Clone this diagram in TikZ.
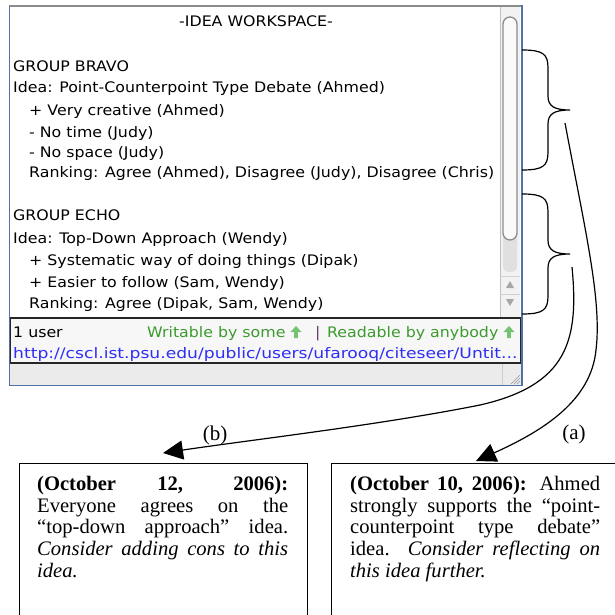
\documentclass[tikz,border=0pt]{standalone}
\usepackage{fontspec}
\setmainfont{Liberation Serif}
\newfontfamily\winfont[FakeStretch=1.09]{DejaVu Sans}
\usetikzlibrary{arrows.meta}
\definecolor{winblue}{HTML}{4F73A8}
\definecolor{okgreen}{HTML}{3C9A2E}
\definecolor{arrowgreen}{HTML}{74C274}
\definecolor{linkblue}{HTML}{2E2EF5}
\definecolor{sepviolet}{HTML}{6A3D6A}
\begin{document}
\begin{tikzpicture}[x=1pt,y=-1pt,
  wintext/.style={font=\winfont\fontsize{14.5}{17}\selectfont, anchor=base west, inner sep=0pt},
  boxtext/.style={font=\fontsize{20.6}{21.7}\selectfont, anchor=north west, inner sep=0pt, align=justify},
  notebox/.style={draw=black, line width=1.4pt, anchor=north west, inner sep=0pt},
  bracepath/.style={draw=black, line width=1.2pt},
  connector/.style={draw=black, line width=1.2pt, -{Triangle[length=20pt,width=19pt]}},
  lbl/.style={font=\fontsize{21}{22}\selectfont, inner sep=0pt},
  greenup/.pic={\fill[arrowgreen] (-5.5,0) -- (0,-6) -- (5.5,0) -- (1.8,0) -- (1.8,6) -- (-1.8,6) -- (-1.8,0) -- cycle;},
  rbrace/.pic={\draw[bracepath] (0,0) .. controls (21,0) and (26,4) .. (26,18) -- (26,46) .. controls (26,56) and (32,60) .. (48,60)
      .. controls (32,60) and (26,64) .. (26,74) -- (26,102) .. controls (26,116) and (21,120) .. (0,120);}
]
\fill[white] (0,0) rectangle (615,615);
\useasboundingbox (0,0) rectangle (615,615);
\clip (0,0) rectangle (615,615);

% ---- window ----
\fill[white] (10,6) rectangle (522,318);
\draw[black!45, line width=2pt] (9,6) -- (522,6);
% scrollbar
\fill[black!5] (500,7) rectangle (520,318);
\draw[black!25] (500,7) -- (500,318);
\fill[black!12, rounded corners=6pt] (503,225) rectangle (517,272);
\draw[black!45, line width=1.3pt, fill=black!2, rounded corners=7pt] (503,17) rectangle (517,240);
\draw[black!18] (500,276) -- (520,276) (500,294) -- (520,294);
\fill[black!35] (506,288) -- (514,288) -- (510,281) -- cycle;
\fill[black!35] (506,299) -- (514,299) -- (510,306) -- cycle;
% status bar
\draw[fill=black!3, draw=black!85, line width=1.2pt] (10,318) rectangle (521,363);
\fill[black!8] (10,364) rectangle (521,385);
\draw[black!20] (502,364) -- (502,385);
\draw[black!40] (511,384) -- (520,375) (514,384) -- (520,378) (517,384) -- (520,381);
\draw[winblue, line width=1.5pt] (9.5,6) -- (9.5,385.5) -- (522,385.5) -- (522,5);

% window text
\node[wintext, anchor=base] (title) at (256,27) {-IDEA WORKSPACE-};
\node[wintext] (gb) at (13,72) {GROUP BRAVO};
\node[wintext] (gbidea) at (13,93) {Idea: Point-Counterpoint Type Debate (Ahmed)};
\node[wintext] (gbp1) at (29,115) {+ Very creative (Ahmed)};
\node[wintext] (gbm1) at (29,137) {- No time (Judy)};
\node[wintext] (gbm2) at (29,157) {- No space (Judy)};
\node[wintext] (gbrank) at (29,177) {Ranking: Agree (Ahmed), Disagree (Judy), Disagree (Chris)};
\node[wintext] (ge) at (13,220) {GROUP ECHO};
\node[wintext] (geidea) at (13,243) {Idea: Top-Down Approach (Wendy)};
\node[wintext] (gep1) at (29,265) {+ Systematic way of doing things (Dipak)};
\node[wintext] (gep2) at (29,287) {+ Easier to follow (Sam, Wendy)};
\node[wintext] (gerank) at (29,308) {Ranking: Agree (Dipak, Sam, Wendy)};
\node[wintext] (users) at (13,337) {1 user};
\node[wintext, text=okgreen] (writable) at (147,337) {Writable by some};
\pic at (296,332) {greenup};
\node[wintext, text=sepviolet] (sep) at (315,337) {|};
\node[wintext, text=okgreen] (readable) at (327,337) {Readable by anybody};
\pic at (509,332) {greenup};
\node[wintext, text=linkblue] (url) at (13,358) {\scalebox{1.085}[1]{http://cscl.ist.psu.edu/public/users/ufarooq/citeseer/Untit...}};

% braces
\pic at (522,50) {rbrace};
\pic at (522,194) {rbrace};

% note boxes
\node[notebox, minimum width=288pt, minimum height=170pt] (boxB) at (19,463) {};
\node[notebox, minimum width=300pt, minimum height=170pt] (boxA) at (331,463) {};
\node[boxtext, text width=251pt] (noteB) at (37,476) {\textbf{(October 12, 2006):}\linebreak Everyone agrees on the\linebreak “top-down approach” idea.\linebreak \textit{Consider adding cons to this\linebreak idea.}};
\node[boxtext, text width=250pt] (noteA) at (350,476) {\textbf{(October 10, 2006):} Ahmed\linebreak strongly supports the “point-\linebreak counterpoint type debate”\linebreak idea. \textit{Consider reflecting on\linebreak this idea further.}};

% connectors
\coordinate (srcA) at (565,123);
\coordinate (tipA) at (476,461);
\coordinate (srcB) at (572,267);
\coordinate (tipB) at (163,453);
\draw[connector] (srcA) .. controls (585,230) and (602,300) .. (596,350) .. controls (591,400) and (545,430) .. (tipA);
\draw[connector] (srcB) .. controls (579,340) and (568,385) .. (480,405) .. controls (380,425) and (250,440) .. (tipB);
\node[lbl] (la) at (574,434) {(a)};
\node[lbl] (lb) at (215,435) {(b)};
\end{tikzpicture}
\end{document}
